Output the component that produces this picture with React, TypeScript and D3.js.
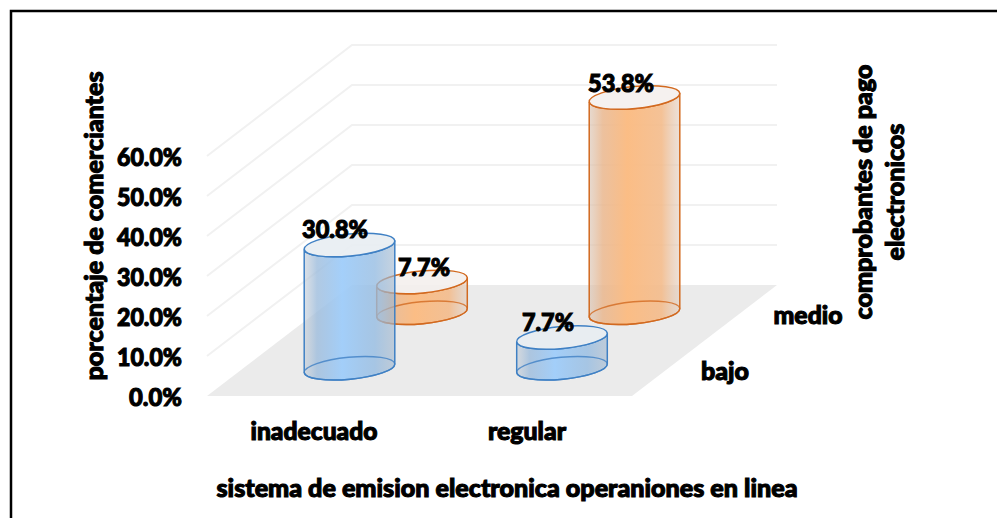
import React from "react";
import * as d3 from "d3";

const categories = ["inadecuado", "regular"];
const depths = ["bajo", "medio"];
const bajoValues = [30.8, 7.7];
const medioValues = [7.7, 53.8];
const yTicks = [0, 10, 20, 30, 40, 50, 60];

const FONT = "Lato, 'Noto Sans', sans-serif";
const u = d3.scaleBand<string>().domain(categories).range([0, 1]);
const v = d3.scaleBand<string>().domain(depths).range([0, 1]);
const hScale = d3.scaleLinear().domain([0, 60]).range([0, 240]);
const fmt = (d: number) => d.toFixed(1) + "%";

const X0 = 207, Y0 = 396, WX = 425, DX = 145, DY = -111;
const project = (a: number, b: number, val = 0): [number, number] => [
  X0 + a * WX + b * DX,
  Y0 + b * DY - hScale(val),
];

const RX = 45.5, RY = 11, ROT = -5.5;

function pt(cx: number, cy: number, sign: number): [number, number] {
  const r = (ROT * Math.PI) / 180;
  return [cx + sign * RX * Math.cos(r), cy + sign * RX * Math.sin(r)];
}

function Cylinder({ cat, dep, val, kind }: { cat: string; dep: string; val: number; kind: "blue" | "orange" }) {
  const a = (u(cat) as number) + u.bandwidth() / 2;
  const b = (v(dep) as number) + v.bandwidth() / 2;
  const [cx, cy] = project(a, b);
  const [tx, ty] = project(a, b, val);
  const stroke = kind === "blue" ? "#3f80c4" : "#d2691f";
  const capFill = kind === "blue" ? "#e8edf2" : "#f4f0ed";
  const [l0x, l0y] = pt(cx, cy, -1);
  const [r0x, r0y] = pt(cx, cy, 1);
  const [l1x, l1y] = pt(tx, ty, -1);
  const [r1x, r1y] = pt(tx, ty, 1);
  const body = `M${l1x},${l1y} L${l0x},${l0y} A${RX},${RY} ${ROT} 0 0 ${r0x},${r0y} L${r1x},${r1y} A${RX},${RY} ${ROT} 0 1 ${l1x},${l1y} Z`;
  return (
    <g>
      <path d={body} fill={`url(#grad-${kind})`} />
      <ellipse cx={cx} cy={cy} rx={RX} ry={RY} transform={`rotate(${ROT} ${cx} ${cy})`} fill="none" stroke={stroke} strokeWidth={1.4} opacity={0.8} />
      <path d={body} fill="none" stroke={stroke} strokeWidth={1.5} />
      <ellipse cx={tx} cy={ty} rx={RX} ry={RY} transform={`rotate(${ROT} ${tx} ${ty})`} fill={capFill} fillOpacity={0.9} stroke={stroke} strokeWidth={1.5} />
    </g>
  );
}

const boldText = { fontFamily: FONT, fontWeight: 900, fill: "#000", stroke: "#000", strokeWidth: 1.1 } as const;

function Label({ x, y, text, len, rotate, anchor = "middle" }: { x: number; y: number; text: string; len: number; rotate?: boolean; anchor?: "middle" | "end" }) {
  return (
    <text
      x={x}
      y={y}
      {...boldText}
      fontSize={25}
      textAnchor={anchor}
      dominantBaseline="central"
      textLength={len}
      lengthAdjust="spacingAndGlyphs"
      transform={rotate ? `rotate(-90 ${x} ${y})` : undefined}
    >
      {text}
    </text>
  );
}

export default function App() {
  const grid = yTicks.filter((t) => t > 0);
  const floor = [project(0, 0), project(1, 0), project(1, 1), project(0, 1)].map((p) => p.join(",")).join(" ");
  return (
    <svg width={997} height={518} style={{ position: "absolute", left: 0, top: 0, background: "#fff" }}>
      <defs>
        <linearGradient id="grad-blue" x1="0" x2="1" y1="0" y2="0">
          <stop offset="0" stopColor="#c3ccd6" stopOpacity={0.6} />
          <stop offset="0.14" stopColor="#9dbcdc" stopOpacity={0.8} />
          <stop offset="0.42" stopColor="#9fcdfa" stopOpacity={0.95} />
          <stop offset="0.78" stopColor="#95bce2" stopOpacity={0.8} />
          <stop offset="1" stopColor="#a0b6cd" stopOpacity={0.6} />
        </linearGradient>
        <linearGradient id="grad-orange" x1="0" x2="1" y1="0" y2="0">
          <stop offset="0" stopColor="#dac5b5" stopOpacity={0.65} />
          <stop offset="0.15" stopColor="#e9b68d" stopOpacity={0.85} />
          <stop offset="0.42" stopColor="#fbbd85" />
          <stop offset="0.8" stopColor="#f3bb8b" stopOpacity={0.9} />
          <stop offset="1" stopColor="#e0cdbf" stopOpacity={0.6} />
        </linearGradient>
      </defs>
      <path d="M11,518 V11 H997" fill="none" stroke="#000" strokeWidth={2.5} />
      <polygon points={floor} fill="#ebebeb" />
      {grid.map((t) => {
        const a = project(0, 0, t), b = project(0, 1, t), c = project(1, 1, t);
        return (
          <polyline key={t} points={`${a} ${b} ${c}`} fill="none" stroke="#f1f1f1" strokeWidth={2} />
        );
      })}
      {categories.map((c, i) => (
        <Cylinder key={c} cat={c} dep={depths[1]} val={medioValues[i]} kind="orange" />
      ))}
      {categories.map((c, i) => (
        <Cylinder key={c} cat={c} dep={depths[0]} val={bajoValues[i]} kind="blue" />
      ))}
      {yTicks.map((t) => (
        <Label key={t} x={182} y={Y0 - hScale(t)} text={fmt(t)} len={t === 0 ? 53 : 65} anchor="end" />
      ))}
      <Label x={335} y={228} text={fmt(bajoValues[0])} len={66} />
      <Label x={424} y={266} text={fmt(medioValues[0])} len={52} />
      <Label x={548} y={321} text={fmt(bajoValues[1])} len={52} />
      <Label x={621} y={82} text={fmt(medioValues[1])} len={66} />
      <Label x={314} y={430} text={categories[0]} len={127} />
      <Label x={527} y={430} text={categories[1]} len={78} />
      <Label x={725} y={370} text={depths[0]} len={48} />
      <Label x={808} y={314} text={depths[1]} len={69} />
      <Label x={507} y={487} text="sistema de emision electronica operaniones en linea" len={581} />
      <Label x={93} y={226} text="porcentaje de comerciantes" rotate len={309} />
      <Label x={862} y={192} text="comprobantes de pago" rotate len={255} />
      <Label x={894} y={192} text="electronicos" rotate len={137} />
    </svg>
  );
}
